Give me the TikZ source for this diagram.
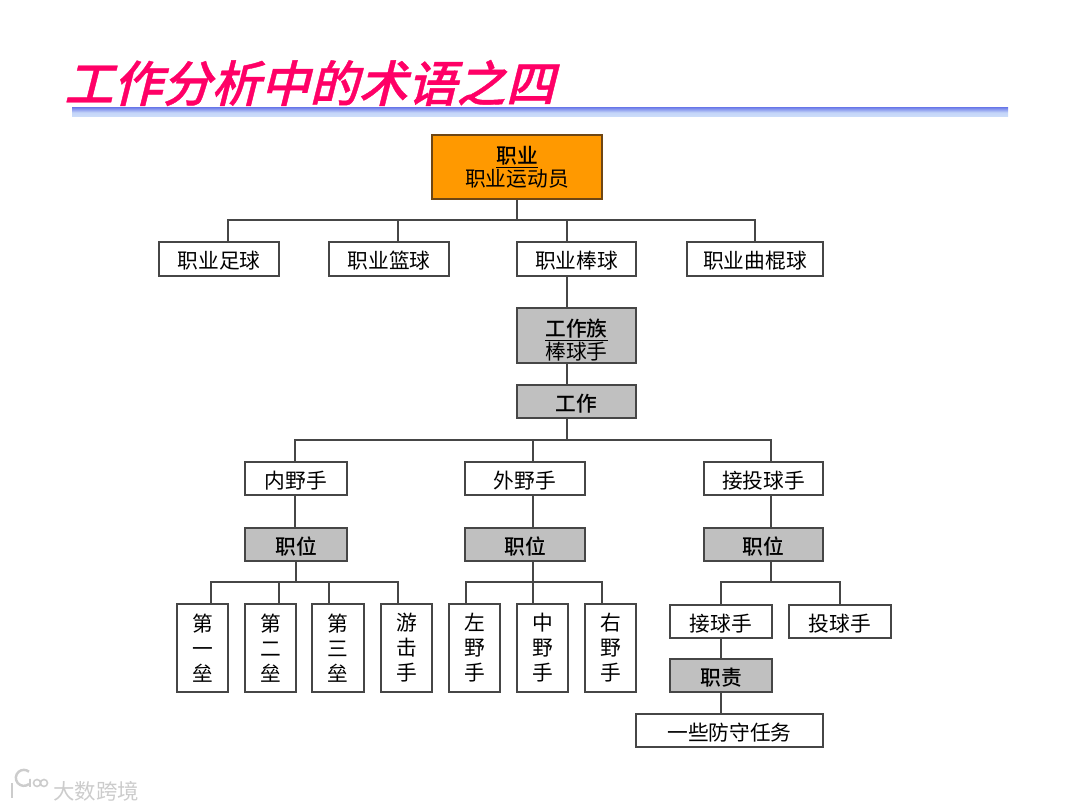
\documentclass[tikz,border=0pt]{standalone}
\usepackage{fontspec}
\setmainfont{Noto Sans CJK SC}
\newfontfamily\titlefont[FakeSlant=0.25,FakeBold=0.8]{Noto Sans CJK SC Medium}
\newfontfamily\headfont{Noto Sans CJK SC Medium}
\usepackage{tikz}
\usetikzlibrary{shapes.geometric, arrows}
\definecolor{titlepink}{RGB}{255,0,102}
\definecolor{headorange}{RGB}{255,153,0}
\definecolor{headedge}{RGB}{110,70,20}
\definecolor{headgray}{RGB}{192,192,192}
\definecolor{linegray}{RGB}{70,70,70}
\definecolor{ruletop}{RGB}{120,135,235}
\definecolor{rulebottom}{RGB}{205,222,250}
\tikzstyle{box} = [draw=linegray,line width=0.65pt,fill=white,inner sep=0pt,font=\fontsize{11.8}{14.2}\selectfont,align=center,text height=11.2pt,text depth=0pt]
\tikzstyle{stack} = [box,text height=,text depth=]
\tikzstyle{pair} = [stack,font=\fontsize{11.8}{13.2}\selectfont]
\tikzstyle{grayBox} = [box,fill=headgray]
\tikzstyle{link} = [draw=linegray,line width=0.6pt]
\newcommand{\boxAt}[7][box]{% style, name, x1, y1, x2, y2, text
	\node [minimum width=#5*0.02cm-#3*0.02cm,minimum height=#6*0.02cm-#4*0.02cm,#1] (#2) at ({(#3+#5)/2},{(#4+#6)/2}) {#7};
}
\newcommand{\head}[1]{{\headfont #1}}
\begin{document}
\begin{tikzpicture}[x=0.02cm,y=-0.02cm]
	\useasboundingbox (0,0) rectangle (1080,810);
	
	% Title and rule:
	\node [anchor=west,text=titlepink,inner sep=0pt,font=\fontsize{27.9}{30}\titlefont] (title) at (64,83) {工作分析中的术语之四};
	\shade [top color=ruletop,bottom color=rulebottom,middle color=rulebottom!90!ruletop] (72,108) rectangle (1008,117);
	
	% Boxes, top part:
	\boxAt[pair,fill=headorange,draw=headedge]{career}{432}{135}{602}{199}{\head{\underline{职业}}\\职业运动员}
	\boxAt{football}{159}{242}{279}{276}{职业足球}
	\boxAt{basketball}{329}{242}{449}{276}{职业篮球}
	\boxAt{baseball}{517}{242}{636}{276}{职业棒球}
	\boxAt{hockey}{687}{242}{823}{276}{职业曲棍球}
	\boxAt[pair,fill=headgray]{family}{517}{308}{636}{363}{\rule{0pt}{15pt}\head{\underline{工作族}}\\棒球手}
	\boxAt[grayBox]{job}{517}{385}{636}{418}{\head{工作}}
	
	% Boxes, middle part:
	\boxAt{infield}{245}{462}{347}{495}{内野手}
	\boxAt{outfield}{465}{462}{585}{495}{外野手}
	\boxAt{battery}{704}{462}{823}{495}{接投球手}
	\boxAt[grayBox]{posA}{245}{528}{347}{561}{\head{职位}}
	\boxAt[grayBox]{posB}{465}{528}{585}{561}{\head{职位}}
	\boxAt[grayBox]{posC}{704}{528}{823}{561}{\head{职位}}
	
	% Boxes, bottom part:
	\boxAt[stack]{first}{177}{604}{228}{692}{第\\一\\垒}
	\boxAt[stack]{second}{245}{604}{296}{692}{第\\二\\垒}
	\boxAt[stack]{third}{312}{604}{364}{692}{第\\三\\垒}
	\boxAt[stack]{short}{381}{604}{432}{692}{游\\击\\手}
	\boxAt[stack]{left}{449}{604}{500}{692}{左\\野\\手}
	\boxAt[stack]{center}{517}{604}{568}{692}{中\\野\\手}
	\boxAt[stack]{right}{585}{604}{636}{692}{右\\野\\手}
	\boxAt{catcher}{670}{605}{772}{638}{接球手}
	\boxAt{pitcher}{789}{605}{891}{638}{投球手}
	\boxAt[grayBox]{duty}{670}{659}{772}{692}{\head{职责}}
	\boxAt{task}{636}{714}{823}{747}{一些防守任务}
	
	% Connectors with a bus:
	\foreach \n/\x in {football/228,basketball/398,baseball/567,hockey/755}{%
		\draw [link] (career.south) |- (\x,220) -- (\n.north -| \x,220);
	}
	\foreach \n/\x in {infield/295,outfield/533,battery/771}{%
		\draw [link] (job.south -| 567,0) |- (\x,440) -- (\n.north -| \x,0);
	}
	\foreach \n/\x in {first/211,second/279,third/329,short/398}{%
		\draw [link] (posA.south) |- (\x,582) -- (\n.north -| \x,0);
	}
	\foreach \n/\x in {left/466,center/533,right/602}{%
		\draw [link] (posB.south -| 533,0) |- (\x,582) -- (\n.north -| \x,0);
	}
	\foreach \n/\x in {catcher/721,pitcher/840}{%
		\draw [link] (posC.south -| 771,0) |- (\x,582) -- (\n.north -| \x,0);
	}
	
	% Straight connectors:
	\draw [link] (baseball.south -| 567,0) -- (family.north -| 567,0);
	\draw [link] (family.south -| 567,0) -- (job.north -| 567,0);
	\draw [link] (infield.south -| 295,0) -- (posA.north -| 295,0);
	\draw [link] (outfield.south -| 533,0) -- (posB.north -| 533,0);
	\draw [link] (battery.south -| 771,0) -- (posC.north -| 771,0);
	\draw [link] (catcher) -- (duty);
	\draw [link] (duty.south) -- (task.north -| duty.south);
	
	% Watermark:
	\node [text=black!20,inner sep=0pt,font=\fontsize{12.2}{14}\selectfont] (mark) at (96,791) {大数跨境};
	\draw [black!20,line width=1.4pt] (12,783) -- (12,798);
	\draw [black!20,line width=1.4pt] (29,784) arc (50:310:8);
	\draw [black!20,line width=0.9pt] (30,779) -- (30,787) (37,783) circle (3.5) (44,783) circle (3.5);
\end{tikzpicture}
\end{document}
